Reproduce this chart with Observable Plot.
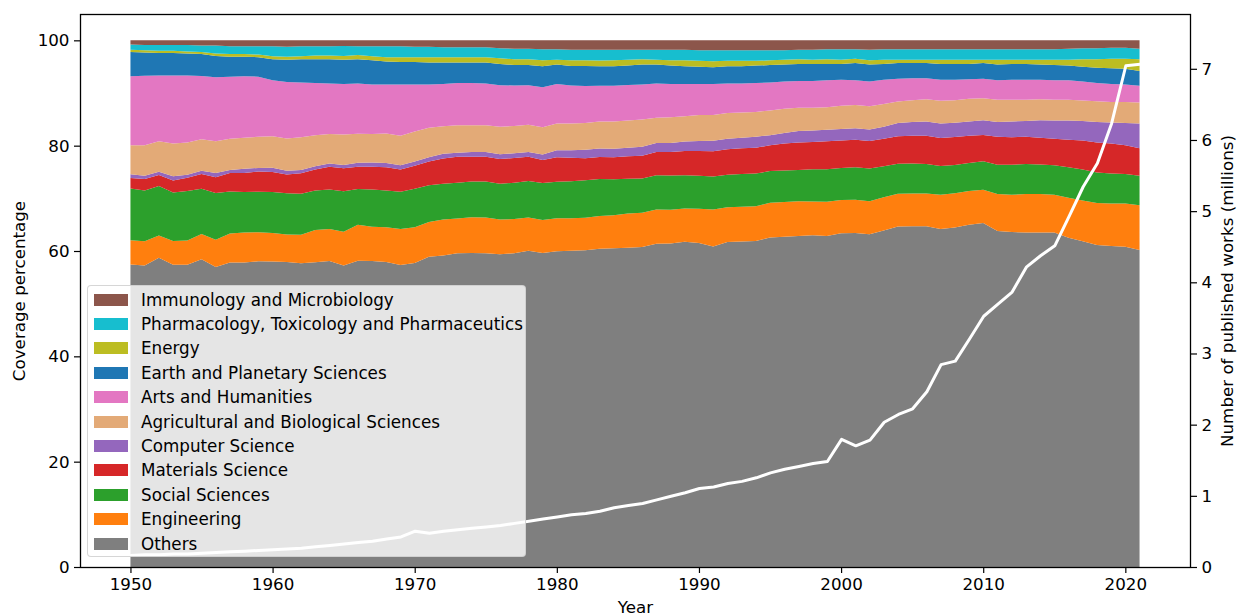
<!DOCTYPE html>
<html>
<head>
<meta charset="utf-8">
<script src="https://cdn.jsdelivr.net/npm/d3@7"></script>
<script src="https://cdn.jsdelivr.net/npm/@observablehq/plot@0.6"></script>
<style>
  html, body { margin: 0; padding: 0; background: #fff; }
  #chart { position: relative; width: 1238px; height: 615px; font-family: "DejaVu Sans", sans-serif; }
  #chart > svg { position: absolute; left: 0; top: 0; }
  #legend {
    position: absolute; left: 87px; top: 285px; width: 439px; height: 272px;
    box-sizing: border-box; background: rgba(255,255,255,0.8);
    border: 1px solid rgba(204,204,204,0.8); border-radius: 4px;
    padding-top: 1.5px; font-size: 16.75px; color: #000;
  }
  #legend .row { display: flex; align-items: center; height: 24.4px; white-space: nowrap; }
  #legend .sw { width: 34px; height: 12px; margin-left: 6px; margin-right: 13px; flex: none; }
</style>
</head>
<body>
<div id="chart"></div>
<script>
// ---------- data ----------
const years = [1950,1951,1952,1953,1954,1955,1956,1957,1958,1959,1960,1961,1962,1963,1964,1965,1966,1967,1968,1969,
  1970,1971,1972,1973,1974,1975,1976,1977,1978,1979,1980,1981,1982,1983,1984,1985,1986,1987,1988,1989,
  1990,1991,1992,1993,1994,1995,1996,1997,1998,1999,2000,2001,2002,2003,2004,2005,2006,2007,2008,2009,
  2010,2011,2012,2013,2014,2015,2016,2017,2018,2019,2020,2021];

// stack order, bottom to top
const categories = ["Others","Engineering","Social Sciences","Materials Science","Computer Science",
  "Agricultural and Biological Sciences","Arts and Humanities","Earth and Planetary Sciences","Energy",
  "Pharmacology, Toxicology and Pharmaceutics","Immunology and Microbiology"];
const colors = ["#7f7f7f","#ff7f0e","#2ca02c","#d62728","#9467bd","#e3aa77","#e377c2","#1f77b4","#bcbd22","#17becf","#8c564b"];

// coverage percentages per category
const others = [57.4,57.2,58.8,57.4,57.4,58.5,57.0,57.8,57.8,58.0,58.0,57.8,57.6,57.8,58.1,57.3,58.1,58.1,57.9,57.3,
  57.7,58.9,59.1,59.5,59.6,59.5,59.3,59.7,60.0,59.6,60.0,60.1,60.2,60.3,60.5,60.6,60.7,61.4,61.5,61.7,
  61.5,61.0,61.7,61.8,61.9,62.5,62.7,62.8,63.0,62.9,63.3,63.5,63.1,63.9,64.6,64.7,64.7,64.3,64.6,65.0,
  65.4,63.8,63.6,63.5,63.6,63.5,62.5,61.8,61.2,61.0,60.8,60.2];
const engineering = [4.6,4.6,4.2,4.5,4.6,4.8,5.2,5.5,5.7,5.5,5.4,5.2,5.4,6.1,6.1,6.4,6.8,6.5,6.6,6.8,
  6.8,6.6,6.8,6.6,6.8,6.8,6.6,6.5,6.3,6.3,6.3,6.2,6.2,6.2,6.3,6.5,6.5,6.5,6.4,6.3,
  6.5,7.0,6.6,6.6,6.6,6.6,6.6,6.6,6.4,6.5,6.3,6.3,6.3,6.3,6.2,6.2,6.2,6.5,6.5,6.4,
  6.3,7.0,7.1,7.3,7.3,7.2,7.6,7.7,8.0,8.1,8.2,8.5];
const social = [9.8,9.6,9.4,9.2,9.4,8.6,8.9,8.0,7.7,7.7,7.8,7.8,7.8,7.5,7.5,7.7,6.8,7.1,7.0,7.1,
  7.3,7.0,6.8,6.8,6.8,6.8,6.8,6.9,6.9,7.0,6.9,7.0,7.1,7.0,6.8,6.6,6.5,6.5,6.5,6.3,
  6.3,6.3,6.2,6.2,6.2,6.0,6.0,5.9,6.1,6.2,6.1,6.2,6.2,5.9,5.7,5.7,5.6,5.5,5.4,5.3,
  5.4,5.6,5.7,5.7,5.6,5.6,5.8,5.9,5.8,5.7,5.6,5.6];
const materials = [2.0,2.2,2.1,2.3,2.5,2.8,3.0,3.5,3.6,3.8,3.8,3.6,3.9,4.0,4.3,4.4,4.2,4.3,4.4,4.2,
  4.4,4.5,4.8,4.9,4.7,4.7,4.7,4.7,4.6,4.4,4.7,4.5,4.2,4.2,4.2,4.3,4.3,4.4,4.5,4.6,
  4.7,4.8,4.8,4.9,4.9,4.9,5.1,5.2,5.2,5.3,5.2,5.2,5.2,5.2,5.2,5.3,5.4,5.3,5.3,5.2,
  5.0,5.3,5.2,5.2,5.1,5.0,5.2,5.5,5.7,5.7,5.5,5.2];
const computer = [0.7,0.6,0.6,0.8,0.6,0.6,0.8,0.6,0.8,0.7,0.8,0.7,0.6,0.6,0.6,0.6,0.8,0.8,0.8,0.8,
  0.8,0.8,0.9,0.8,0.9,0.9,0.9,0.9,0.9,1.0,1.3,1.4,1.6,1.6,1.6,1.6,1.7,1.7,1.7,1.8,
  1.9,2.0,2.0,2.0,2.1,1.9,2.0,2.2,2.2,2.2,2.2,2.2,2.2,2.3,2.5,2.6,2.7,2.8,2.7,2.7,
  2.8,2.8,3.0,3.0,3.3,3.5,3.7,3.7,3.9,4.0,4.2,4.7];
const agricultural = [5.5,5.8,5.8,6.2,6.1,6.0,6.0,5.9,5.9,5.9,6.0,6.1,6.2,5.9,5.6,5.8,5.5,5.4,5.6,5.6,
  5.7,5.6,5.2,5.2,5.1,5.1,5.2,5.2,5.2,5.2,5.1,5.1,5.1,5.1,5.2,5.2,5.2,4.8,4.9,4.8,
  4.9,4.9,4.9,4.8,4.7,4.7,4.6,4.4,4.3,4.3,4.4,4.4,4.4,4.3,4.1,4.1,4.2,4.3,4.3,4.3,
  4.2,4.2,4.1,4.0,4.0,3.9,3.9,3.9,3.9,3.9,4.0,4.0];
const arts = [13.1,13.2,12.5,12.9,12.7,12.0,12.2,11.8,11.7,11.4,10.6,10.7,10.4,9.9,9.6,9.6,9.5,9.4,9.3,9.7,
  8.9,8.2,8.0,8.0,8.0,7.9,7.9,7.7,7.5,7.6,7.5,7.2,7.0,6.8,6.8,6.7,6.6,6.5,6.3,6.1,
  5.9,5.9,5.6,5.5,5.5,5.3,5.2,5.1,5.1,5.1,4.9,4.7,4.7,4.6,4.3,4.2,4.0,4.0,3.9,3.7,
  3.7,3.7,3.8,3.8,3.7,3.7,3.7,3.6,3.5,3.4,3.3,3.2];
const earth = [4.6,4.4,4.3,4.3,4.2,4.2,4.0,3.8,3.7,3.7,4.0,4.2,4.4,4.5,4.6,4.6,4.6,4.6,4.4,4.3,
  4.3,4.2,4.1,3.9,3.9,4.0,4.0,3.9,3.8,4.0,3.7,3.7,3.8,3.7,3.7,3.7,3.8,3.6,3.5,3.4,
  3.3,3.2,3.3,3.3,3.3,3.3,3.2,3.2,3.2,3.1,3.0,3.3,3.2,3.0,3.0,2.9,2.9,3.0,3.0,2.9,
  3.0,3.0,3.0,3.0,2.9,2.9,2.8,2.8,2.9,3.0,3.0,2.8];
const energy = [0.4,0.4,0.4,0.4,0.4,0.4,0.5,0.5,0.5,0.5,0.6,0.6,0.6,0.7,0.7,0.7,0.8,0.8,0.8,0.9,
  0.9,1.0,1.0,1.0,1.0,1.0,1.1,1.1,1.1,1.1,0.9,1.1,1.1,1.1,1.1,1.1,1.0,0.9,1.0,1.1,
  1.1,1.1,1.0,1.0,0.9,0.9,0.9,0.9,0.8,0.9,0.8,0.8,0.8,0.8,0.6,0.6,0.6,0.8,0.8,0.8,
  0.6,0.9,0.8,0.8,0.9,1.0,1.1,1.4,1.6,1.8,1.9,2.2];
const pharmacology = [1.0,1.0,1.1,1.1,1.2,1.2,1.5,1.5,1.5,1.6,1.9,1.9,1.9,1.8,1.8,1.9,1.7,1.9,2.1,2.1,
  2.0,2.0,1.9,1.9,1.9,1.9,1.9,2.0,2.0,2.1,2.0,2.0,2.0,2.0,2.0,1.9,1.8,1.9,2.0,2.0,
  2.0,2.1,2.0,2.0,2.0,1.9,1.8,1.8,1.9,1.9,2.0,1.8,2.0,2.0,2.0,2.0,2.0,2.0,2.0,2.0,
  2.0,2.0,2.0,2.0,2.0,2.0,2.1,2.1,2.1,2.1,2.1,2.0];
const immunology = [0.8,0.9,0.9,0.9,0.9,1.0,1.0,1.1,1.1,1.1,1.1,1.2,1.1,1.1,1.1,1.1,1.1,1.1,1.1,1.1,
  1.2,1.2,1.3,1.3,1.3,1.3,1.5,1.6,1.6,1.7,1.7,1.8,1.8,1.8,1.8,1.8,1.8,1.8,1.8,1.8,
  1.9,1.9,1.9,1.9,1.9,1.9,1.9,1.8,1.8,1.7,1.7,1.7,1.8,1.7,1.7,1.7,1.7,1.7,1.7,1.7,
  1.7,1.7,1.7,1.7,1.7,1.7,1.6,1.5,1.5,1.4,1.4,1.6];

// number of published works (millions)
const works = [0.17,0.18,0.18,0.19,0.19,0.20,0.21,0.22,0.23,0.24,0.25,0.26,0.27,0.29,0.31,0.33,0.35,0.37,0.40,0.43,
  0.51,0.48,0.51,0.53,0.55,0.57,0.59,0.62,0.65,0.68,0.71,0.74,0.76,0.79,0.84,0.87,0.90,0.95,1.00,1.05,
  1.11,1.13,1.18,1.21,1.26,1.33,1.38,1.42,1.46,1.49,1.80,1.71,1.79,2.04,2.15,2.23,2.47,2.85,2.90,3.21,
  3.53,3.70,3.87,4.22,4.38,4.52,4.93,5.35,5.68,6.24,7.05,7.07];

const xTicks = [1950,1960,1970,1980,1990,2000,2010,2020];
const yTicksLeft = [0,20,40,60,80,100];
const yTicksRight = [0,1,2,3,4,5,6,7];

// ---------- build ----------
const seriesValues = [others,engineering,social,materials,computer,agricultural,arts,earth,energy,pharmacology,immunology];
const rows = [];
categories.forEach((c, k) => years.forEach((yr, i) => rows.push({year: yr, category: c, value: seriesValues[k][i]})));
const workRows = years.map((yr, i) => ({year: yr, works: works[i]}));

const common = {
  width: 1238, height: 615,
  marginLeft: 80, marginRight: 48, marginTop: 14, marginBottom: 48,
  style: {fontFamily: '"DejaVu Sans", sans-serif', fontSize: "16.7px", background: "transparent", color: "#000", overflow: "visible"}
};

// shares are stacked to a total of 100 % (normalized stack, shown in percent)
const base = Plot.plot({
  ...common,
  x: {domain: [1946.45, 2024.55]},
  y: {domain: [0, 1.05]},
  color: {domain: categories, range: colors},
  marks: [
    Plot.areaY(rows, {x: "year", y: "value", z: "category", fill: "category", order: categories, offset: "normalize"}),
    Plot.frame({stroke: "#000", strokeWidth: 1.3}),
    Plot.axisX({ticks: xTicks, tickFormat: d => String(d), tickSize: 6, tickPadding: 5, strokeWidth: 1.2,
      label: "Year", labelAnchor: "center", labelArrow: "none", labelOffset: 45}),
    Plot.axisY({ticks: yTicksLeft.map(t => t / 100), tickFormat: d => String(Math.round(d * 100)), tickSize: 6, tickPadding: 5, strokeWidth: 1.2,
      label: "Coverage percentage", labelAnchor: "center", labelArrow: "none", labelOffset: 67})
  ]
});

const overlay = Plot.plot({
  ...common,
  x: {domain: [1946.45, 2024.55], axis: null},
  y: {domain: [0, 7.77]},
  marks: [
    Plot.lineY(workRows, {x: "year", y: "works", stroke: "white", strokeWidth: 3}),
    Plot.axisY({anchor: "right", ticks: yTicksRight, tickSize: 6, tickPadding: 5, strokeWidth: 1.2,
      label: "Number of published works (millions)", labelAnchor: "center", labelArrow: "none", labelOffset: 42})
  ]
});

const chart = document.getElementById("chart");
chart.appendChild(base);
chart.appendChild(overlay);

const legend = document.createElement("div");
legend.id = "legend";
for (let k = categories.length - 1; k >= 0; k--) {
  const row = document.createElement("div");
  row.className = "row";
  const sw = document.createElement("span");
  sw.className = "sw";
  sw.style.background = colors[k];
  const tx = document.createElement("span");
  tx.textContent = categories[k];
  row.appendChild(sw);
  row.appendChild(tx);
  legend.appendChild(row);
}
chart.appendChild(legend);
</script>
</body>
</html>
